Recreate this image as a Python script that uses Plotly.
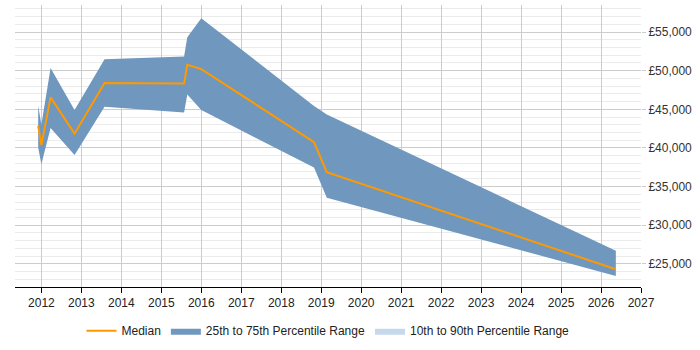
import plotly.graph_objects as go

# Data
years = [2011.92, 2012.0, 2012.23, 2012.83, 2013.58, 2015.57, 2015.65, 2016.0, 2018.82, 2019.14, 2026.37]
median = [42860, 40370, 46550, 41850, 48420, 48350, 50750, 50200, 40760, 36870, 24290]
p75 = [45460, 42990, 50330, 44900, 51480, 51820, 54310, 56780, 45430, 44330, 26700]
p25 = [40030, 37900, 42570, 39100, 45330, 44600, 46930, 44900, 37470, 33560, 23430]

fig = go.Figure()

fig.add_trace(go.Scatter(
    x=years + years[::-1], y=p75 + p25[::-1],
    fill="toself", fillcolor="#7097be", line=dict(width=0, color="#7097be"),
    mode="lines", name="25th to 75th Percentile Range", legendrank=2, hoverinfo="skip"))
fig.add_trace(go.Scatter(
    x=[None], y=[None], fill="toself", fillcolor="#c6d9ec",
    line=dict(width=0, color="#c6d9ec"), mode="lines",
    name="10th to 90th Percentile Range", legendrank=3))
fig.add_trace(go.Scatter(
    x=years, y=median, mode="lines", line=dict(color="#ff9900", width=2),
    name="Median", legendrank=1))

fig.update_layout(
    width=700, height=350,
    margin=dict(l=15, r=59, t=5, b=58),
    paper_bgcolor="white", plot_bgcolor="white",
    font=dict(family="Liberation Sans, Arial, sans-serif", size=12, color="#222"),
    showlegend=True,
    legend=dict(orientation="h", x=0.5, xanchor="center", y=-0.155, yanchor="middle",
                font=dict(size=12), itemwidth=30),
    xaxis=dict(range=[2011.34, 2027], dtick=1, tick0=2012, showgrid=True,
               gridcolor="#cccccc", showline=True, linecolor="black", linewidth=1,
               ticks="outside", ticklen=5, tickcolor="black", zeroline=False,
               tickformat="d"),
    yaxis=dict(range=[22000, 58500], dtick=5000, tick0=0, side="right",
               tickprefix="£", tickformat=",", showgrid=True, gridcolor="#cccccc",
               zeroline=False, ticks="outside", ticklen=4, tickcolor="#cccccc",
               tickfont=dict(color="#333"),
               minor=dict(dtick=1000, showgrid=True, gridcolor="#ebebeb")),
)

fig.write_html("out.html")
